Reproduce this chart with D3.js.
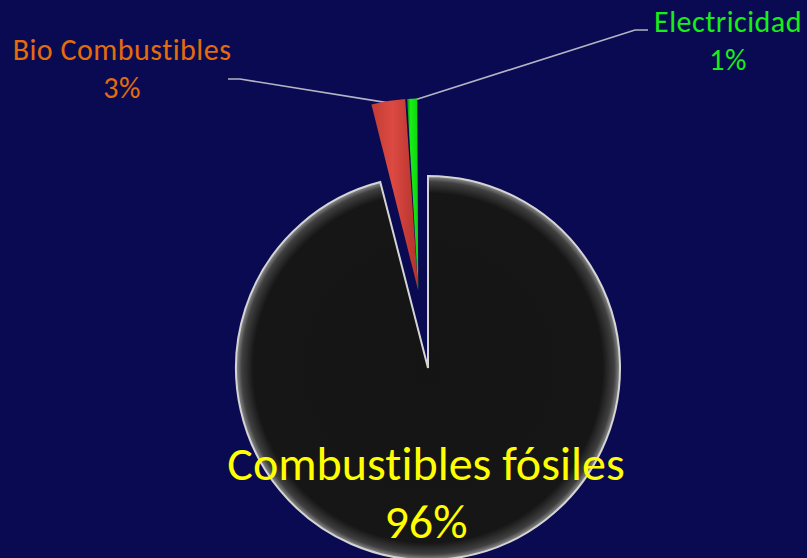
<!DOCTYPE html>
<html>
<head>
<meta charset="utf-8">
<script src="https://cdn.jsdelivr.net/npm/d3@7/dist/d3.min.js"></script>
<style>
  html, body { margin: 0; padding: 0; background: #0a0a52; }
  svg { display: block; }
  text { font-family: Carlito, Lato, "Open Sans", sans-serif; }
</style>
</head>
<body>
<script>
// Energy sources of transport (share, %)
const categories = ["Combustibles fósiles", "Bio Combustibles", "Electricidad"];
const values = [96, 3, 1];
const percentLabels = ["96%", "3%", "1%"];
const exploded = [false, true, true];

const W = 807, H = 558;
const cx = 428, cy = 368, R = 192;
const explodeDist = 78;

const fills = ["url(#gBlack)", "url(#gRed)", "url(#gGreen)"];
const labelColors = ["#ffff00", "#e46c0a", "#18ee18"];

const svg = d3.select("body").append("svg").attr("width", W).attr("height", H);
svg.append("rect").attr("width", W).attr("height", H).attr("fill", "#0a0a52");

const defs = svg.append("defs");
const gb = defs.append("radialGradient").attr("id", "gBlack")
  .attr("gradientUnits", "userSpaceOnUse").attr("cx", 0).attr("cy", 0).attr("r", R);
gb.append("stop").attr("offset", 0).attr("stop-color", "#141414");
gb.append("stop").attr("offset", 0.91).attr("stop-color", "#161616");
gb.append("stop").attr("offset", 0.97).attr("stop-color", "#404040");
gb.append("stop").attr("offset", 1).attr("stop-color", "#909090");

const gr = defs.append("linearGradient").attr("id", "gRed")
  .attr("x1", 0).attr("y1", 0).attr("x2", 1).attr("y2", 0);
gr.append("stop").attr("offset", 0).attr("stop-color", "#c23c35");
gr.append("stop").attr("offset", 0.45).attr("stop-color", "#dc4a42");
gr.append("stop").attr("offset", 1).attr("stop-color", "#b3322c");

const gg = defs.append("linearGradient").attr("id", "gGreen")
  .attr("x1", 0).attr("y1", 0).attr("x2", 1).attr("y2", 0);
gg.append("stop").attr("offset", 0).attr("stop-color", "#0a8a0a");
gg.append("stop").attr("offset", 0.3).attr("stop-color", "#16ee16");
gg.append("stop").attr("offset", 1).attr("stop-color", "#10d410");

const pie = d3.pie().sort(null).startAngle(0).endAngle(2 * Math.PI);
const arcs = pie(values);
const arc = d3.arc().innerRadius(0).outerRadius(R);
const arcPad = d3.arc().innerRadius(0).outerRadius(R).padAngle(0.01);

// exploded wedges move out along the bisector of the exploded group
const expArcs = arcs.filter((d, i) => exploded[i]);
const groupMid = (d3.min(expArcs, d => d.startAngle) + d3.max(expArcs, d => d.endAngle)) / 2;
const offset = d => exploded[d.index]
  ? [Math.sin(groupMid) * explodeDist, -Math.cos(groupMid) * explodeDist]
  : [0, 0];

const g = svg.append("g").attr("transform", `translate(${cx},${cy})`);

// leader lines (drawn under the wedges)
const leaders = [null, { x: 240, y: 79, x0: 228 }, { x: 635, y: 30, x0: 648 }];
arcs.forEach((d, i) => {
  if (!leaders[i]) return;
  const o = offset(d);
  const mid = (d.startAngle + d.endAngle) / 2;
  const ex = o[0] + Math.sin(mid) * (R - 2), ey = o[1] - Math.cos(mid) * (R - 2);
  const L = leaders[i];
  g.append("polyline")
    .attr("points", [[L.x0 - cx, L.y - cy], [L.x - cx, L.y - cy], [ex, ey]].map(p => p.join(",")).join(" "))
    .attr("fill", "none").attr("stroke", "#b4b4c4").attr("stroke-width", 1.7);
});

g.selectAll("path.slice").data(arcs).enter().append("path")
  .attr("class", "slice")
  .attr("transform", d => `translate(${offset(d)})`)
  .attr("d", d => exploded[d.index] ? arcPad(d) : arc(d))
  .attr("fill", (d, i) => fills[i])
  .attr("stroke", (d, i) => i === 0 ? "#d4d4d4" : "none")
  .attr("stroke-width", 2)
  .attr("stroke-linejoin", "miter");

// labels (ligatures off so "ti" stays as two letters)
const txt = (x, y, s, size, color, ls) => svg.append("text")
  .attr("x", x).attr("y", y).attr("text-anchor", "middle")
  .attr("font-size", size).attr("letter-spacing", ls).attr("fill", color)
  .style("font-variant-ligatures", "none")
  .style("font-feature-settings", "'liga' 0, 'clig' 0, 'dlig' 0")
  .text(s);

txt(426, 480, categories[0], 48, labelColors[0], 0.01);
txt(426, 538, percentLabels[0], 48, labelColors[0], 0.01);
txt(122, 60, categories[1], 30, labelColors[1], 0.5);
txt(122, 98, percentLabels[1], 30, labelColors[1], 0.5);
txt(728, 32, categories[2], 30, labelColors[2], 0.5);
txt(728, 70, percentLabels[2], 30, labelColors[2], 0.5);
</script>
</body>
</html>
